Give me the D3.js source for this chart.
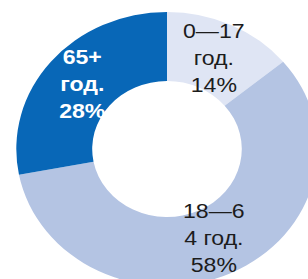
<!DOCTYPE html>
<html>
<head>
<meta charset="utf-8">
<script src="https://cdn.jsdelivr.net/npm/d3@7"></script>
<style>
  html, body { margin: 0; padding: 0; background: #ffffff; }
  svg { display: block; }
</style>
</head>
<body>
<svg id="chart" width="308" height="279"></svg>
<script>
// Data
const categories = ["0—17 год.", "18—64 год.", "65+ год."];
const values = [14, 58, 28];
const labelLines = [
  ["0—17", "год.", "14%"],
  ["18—6", "4 год.", "58%"],
  ["65+", "год.", "28%"]
];
const colors = ["#dfe5f4", "#b4c4e3", "#0867b7"];
const textColors = ["#1c1c1c", "#1c1c1c", "#ffffff"];
const textWeights = ["normal", "normal", "bold"];

const W = 308, H = 279;
const sx = 1.1;           // horizontal stretch of the original picture
const cx = 167 / sx, cy = 149;
const outerR = 137, innerR = 68, labelR = 100;

const svg = d3.select("#chart");
const g = svg.append("g")
  .attr("transform", `scale(${sx},1) translate(${cx},${cy})`);

const pie = d3.pie().sort(null).value(d => d);
const arcs = pie(values);
const arc = d3.arc().innerRadius(innerR).outerRadius(outerR);
const labelArc = d3.arc().innerRadius(labelR).outerRadius(labelR);

const color = d3.scaleOrdinal().domain(categories).range(colors);

g.selectAll("path.slice")
  .data(arcs)
  .join("path")
  .attr("class", "slice")
  .attr("d", arc)
  .attr("fill", (d, i) => color(categories[i]));

const lineH = 27;
const labels = g.selectAll("text.lbl")
  .data(arcs)
  .join("text")
  .attr("class", "lbl")
  .attr("transform", d => {
    const [x, y] = labelArc.centroid(d);
    return `translate(${x},${y})`;
  })
  .attr("text-anchor", "middle")
  .attr("font-family", "'Liberation Sans', Arial, sans-serif")
  .attr("font-size", 21)
  .attr("font-weight", (d, i) => textWeights[i])
  .attr("fill", (d, i) => textColors[i]);

labels.each(function(d, i) {
  const t = d3.select(this);
  labelLines[i].forEach((line, j) => {
    t.append("tspan")
      .attr("x", 0)
      .attr("y", 6 + (j - 1) * lineH)
      .text(line);
  });
});
</script>
</body>
</html>
